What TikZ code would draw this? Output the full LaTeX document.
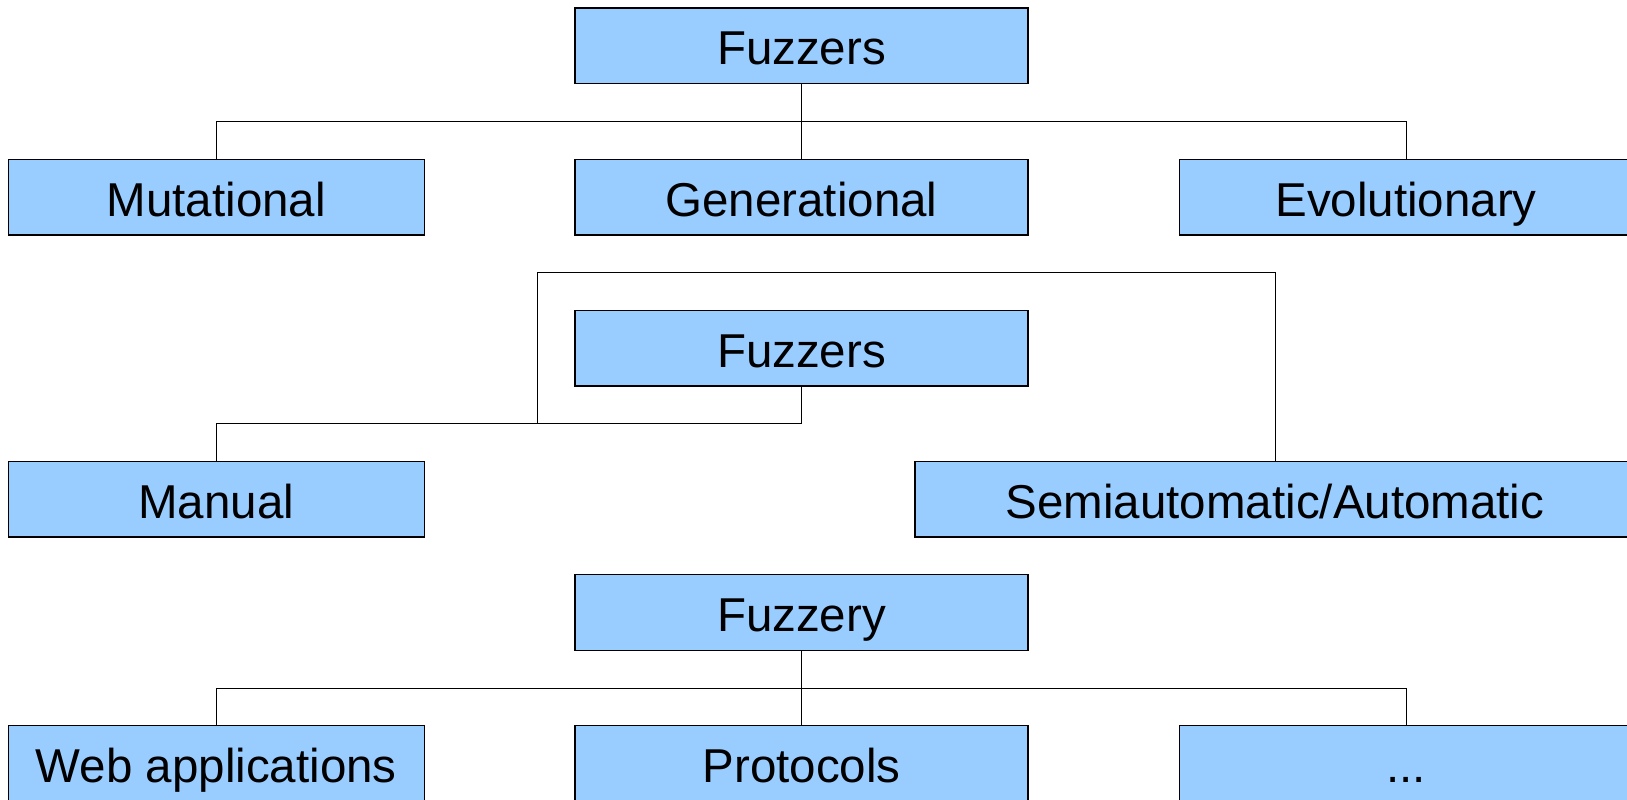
\documentclass[tikz,border=0pt]{standalone}
\usepackage{fontspec}
\setmainfont{Liberation Sans}
\definecolor{boxblue}{HTML}{99CCFF}
\begin{document}
\begin{tikzpicture}[x=1pt,y=-1pt,
  box/.style={draw=black,line width=1.2pt,fill=boxblue,inner sep=0pt,
    minimum height=75.5pt,text height=38pt,text depth=0pt,
    font=\fontsize{47.5}{56}\selectfont},
  wide/.style={minimum width=453pt},
  narrow/.style={minimum width=416pt},
  conn/.style={draw=black,line width=1pt}]
\useasboundingbox (0,0) rectangle (1627,800);
\clip (0,0) rectangle (1627,800);
\fill[white] (0,0) rectangle (1627,800);
% section 1
\node[box,wide] (f1) at (801.5,45.8) {Fuzzers};
\node[box,narrow] (mut) at (216.3,197.3) {Mutational};
\node[box,wide] (gen) at (801.5,197.3) {Generational};
\node[box,wide] (evo) at (1406,197.3) {Evolutionary};
\coordinate (h1) at (0,121.3);
\draw[conn] (f1.south) -- (f1.south|-h1) -| (mut.north);
\draw[conn] (f1.south|-h1) -| (evo.north);
\draw[conn] (f1.south) -- (gen.north);
% section 2
\node[box,wide] (f2) at (801.5,348.3) {Fuzzers};
\node[box,narrow] (man) at (216.3,499.3) {Manual};
\node[box,minimum width=720pt] (semi) at (1275,499.3) {Semiautomatic/Automatic};
\coordinate (b2) at (0,423.7);
\coordinate (t2) at (537.5,272.3);
\draw[conn] (f2.south) -- (f2.south|-b2) -| (man.north);
\draw[conn] (f2.south|-b2) -- (t2|-b2) -- (t2) -| (semi.north);
% section 3
\node[box,wide] (f3) at (801.5,612.5) {Fuzzery};
\node[box,narrow] (web) at (216.3,763.5) {Web applications};
\node[box,wide] (prot) at (801.5,763.5) {Protocols};
\node[box,wide] (dots) at (1406,763.5) {...};
\coordinate (h3) at (0,688);
\draw[conn] (f3.south) -- (f3.south|-h3) -| (web.north);
\draw[conn] (f3.south|-h3) -| (dots.north);
\draw[conn] (f3.south) -- (prot.north);
\end{tikzpicture}
\end{document}
